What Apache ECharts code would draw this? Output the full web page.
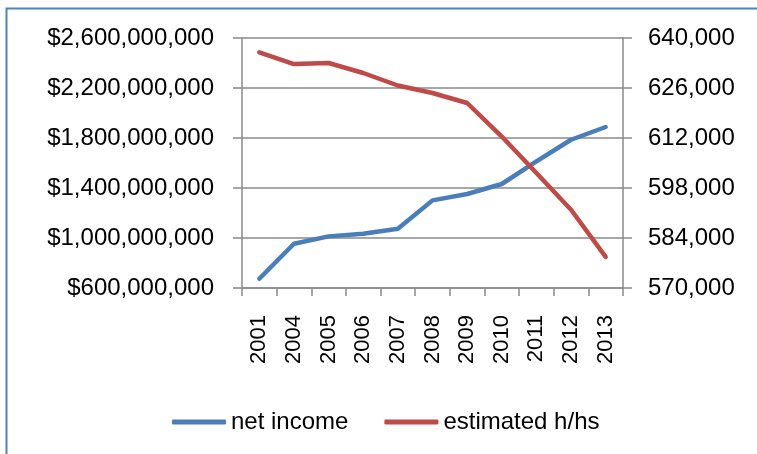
<!DOCTYPE html>
<html>
<head>
<meta charset="utf-8">
<script src="https://cdn.jsdelivr.net/npm/echarts@6/dist/echarts.min.js"></script>
<style>
html,body{margin:0;padding:0;background:#fff;}
#chart{width:757px;height:454px;}
</style>
</head>
<body>
<div id="chart"></div>
<script>
var years = ['2001','2004','2005','2006','2007','2008','2009','2010','2011','2012','2013'];
var netIncome = [674000000, 954000000, 1013000000, 1034000000, 1074000000, 1301000000, 1352000000, 1432000000, 1613000000, 1786000000, 1888000000];
var households = [636000, 632700, 633000, 630200, 626700, 624600, 621800, 612400, 602200, 591900, 578700];
var seriesNames = ['net income', 'estimated h/hs'];

function commas(v){ return String(Math.round(v)).replace(/\B(?=(\d{3})+(?!\d))/g, ','); }

var FONT = '"Liberation Sans", Arial, sans-serif';
var GRID = '#8a8a8a';
var chart = echarts.init(document.getElementById('chart'), null, {renderer:'canvas'});
chart.setOption({
  animation:false,
  backgroundColor:'#ffffff',
  textStyle:{fontFamily:FONT},
  graphic:[{
    type:'rect', silent:true, z:-10,
    shape:{x:6.5, y:8.5, width:800, height:500},
    style:{fill:'none', stroke:'#4F81BD', lineWidth:2}
  }],
  grid:{left:242, right:134, top:38, bottom:166, containLabel:false},
  legend:{
    data:seriesNames,
    left:167, top:405,
    itemWidth:54, itemHeight:5, itemGap:36,
    icon:'roundRect',
    textStyle:{fontSize:24, color:'#000', fontFamily:FONT}
  },
  xAxis:{
    type:'category', data:years, boundaryGap:true,
    axisLine:{show:true, lineStyle:{color:GRID, width:1.5}},
    axisTick:{show:true, length:8, alignWithLabel:false, lineStyle:{color:GRID, width:1.5}},
    axisLabel:{rotate:90, margin:27, color:'#000', fontSize:22, fontFamily:FONT, interval:0},
    splitLine:{show:false}
  },
  yAxis:[{
    type:'value', min:600000000, max:2600000000, interval:400000000,
    position:'left',
    axisLine:{show:true, lineStyle:{color:GRID, width:1.5}},
    axisTick:{show:true, length:9, lineStyle:{color:GRID, width:1.5}},
    axisLabel:{margin:28, color:'#000', fontSize:24, fontFamily:FONT, formatter:function(v){return '$'+commas(v);}},
    splitLine:{show:true, lineStyle:{color:GRID, width:1.5}}
  },{
    type:'value', min:570000, max:640000, interval:14000,
    position:'right',
    axisLine:{show:true, lineStyle:{color:GRID, width:1.5}},
    axisTick:{show:true, length:9, lineStyle:{color:GRID, width:1.5}},
    axisLabel:{margin:25, color:'#000', fontSize:24, fontFamily:FONT, formatter:function(v){return commas(v);}},
    splitLine:{show:false}
  }],
  series:[{
    name:seriesNames[0], type:'line', yAxisIndex:0, data:netIncome,
    showSymbol:false, symbol:'none',
    lineStyle:{color:'#4A7EBB', width:4.5, cap:'round', join:'round'},
    itemStyle:{color:'#4A7EBB'}
  },{
    name:seriesNames[1], type:'line', yAxisIndex:1, data:households,
    showSymbol:false, symbol:'none',
    lineStyle:{color:'#BE4B48', width:4.5, cap:'round', join:'round'},
    itemStyle:{color:'#BE4B48'}
  }]
});
</script>
</body>
</html>
